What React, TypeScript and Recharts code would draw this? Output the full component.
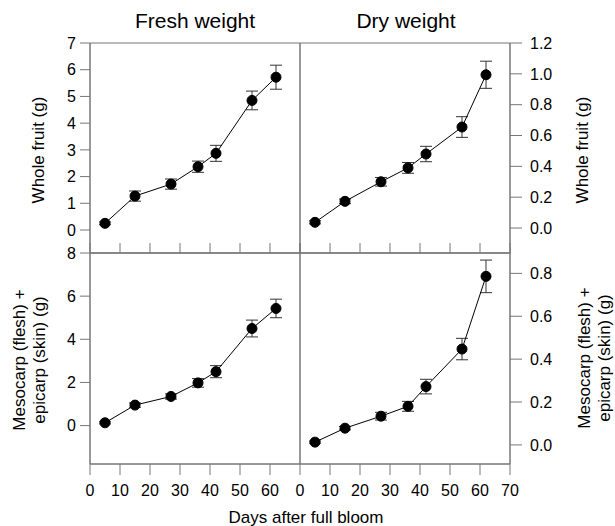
import { LineChart, Line, XAxis, YAxis, ErrorBar, ReferenceArea } from 'recharts';

const days = [5, 15, 27, 36, 42, 54, 62];

const freshWhole = [0.25, 1.27, 1.72, 2.37, 2.87, 4.85, 5.72];
const freshWholeErr = [0.05, 0.19, 0.19, 0.21, 0.3, 0.35, 0.45];
const dryWhole = [0.037, 0.173, 0.3, 0.39, 0.48, 0.655, 0.994];
const dryWholeErr = [0.01, 0.015, 0.028, 0.035, 0.05, 0.067, 0.088];
const freshFlesh = [0.13, 0.95, 1.35, 1.98, 2.5, 4.5, 5.43];
const freshFleshErr = [0.05, 0.1, 0.12, 0.2, 0.28, 0.39, 0.43];
const dryFlesh = [0.013, 0.078, 0.134, 0.18, 0.272, 0.447, 0.786];
const dryFleshErr = [0.005, 0.008, 0.018, 0.023, 0.034, 0.05, 0.076];

const dayTicks = [0, 10, 20, 30, 40, 50, 60, 70];
const freshWholeTicks = [0, 1, 2, 3, 4, 5, 6, 7];
const dryWholeTicks = [0, 0.2, 0.4, 0.6, 0.8, 1.0, 1.2];
const freshFleshTicks = [0, 2, 4, 6, 8];
const dryFleshTicks = [0, 0.2, 0.4, 0.6, 0.8];

const W = 615;
const H = 526;
const AX = '#777';
const FONT = '"Liberation Sans", Arial, sans-serif';
const tickStyle = { fill: '#000', fontSize: 16, fontFamily: FONT };

type PanelProps = {
  values: number[];
  errors: number[];
  domain: [number, number];
  yTicks: number[];
  side: 'left' | 'right';
  row: 'top' | 'bottom';
  fmt?: (v: number) => string;
};

function Panel({ values, errors, domain, yTicks, side, row, fmt }: PanelProps) {
  const data = days.map((d, i) => ({ day: d, v: values[i], err: errors[i] }));
  const isLeft = side === 'left';
  const isTop = row === 'top';
  const margin = {
    top: isTop ? 43 : 243,
    bottom: isTop ? 273 : 12,
    left: isLeft ? 40 : 300,
    right: isLeft ? 315 : 55,
  };
  return (
    <LineChart
      width={W}
      height={H}
      data={data}
      margin={margin}
      style={{ position: 'absolute', left: 0, top: 0 }}
    >
      <XAxis
        xAxisId="b"
        dataKey="day"
        type="number"
        domain={[0, 70]}
        allowDataOverflow
        ticks={isLeft ? dayTicks.slice(0, 7) : dayTicks}
        interval={0}
        hide={isTop}
        height={50}
        tickSize={11}
        tickMargin={10}
        stroke={AX}
        tick={tickStyle}
      />
      {!isTop && (
        <XAxis
          xAxisId="t"
          orientation="top"
          dataKey="day"
          type="number"
          domain={[0, 70]}
          allowDataOverflow
          ticks={dayTicks}
          interval={0}
          height={10}
          tickSize={10}
          tickFormatter={() => ''}
          stroke={AX}
        />
      )}
      <YAxis
        orientation={isLeft ? 'left' : 'right'}
        type="number"
        domain={domain}
        allowDataOverflow
        ticks={yTicks}
        interval={0}
        width={50}
        tickSize={isLeft ? 10 : 12}
        tickMargin={isLeft ? 4 : 8}
        tickFormatter={fmt}
        stroke={AX}
        tick={tickStyle}
      />
      <ReferenceArea
        xAxisId="b"
        x1={0}
        x2={70}
        y1={domain[0]}
        y2={domain[1]}
        fill="none"
        stroke={AX}
        strokeWidth={1}
      />
      <Line
        xAxisId="b"
        type="linear"
        dataKey="v"
        stroke="#000"
        strokeWidth={1}
        dot={{ r: 5, fill: '#000', stroke: '#000', strokeWidth: 1 }}
        isAnimationActive={false}
      >
        <ErrorBar dataKey="err" direction="y" width={6} stroke="#333" strokeWidth={1} />
      </Line>
    </LineChart>
  );
}

const oneDec = (v: number) => v.toFixed(1);

export default function App() {
  return (
    <div style={{ position: 'absolute', left: 0, top: 0, width: W, height: H, background: '#fff' }}>
      <Panel values={freshWhole} errors={freshWholeErr} domain={[-0.86, 7]} yTicks={freshWholeTicks} side="left" row="top" />
      <Panel values={dryWhole} errors={dryWholeErr} domain={[-0.162, 1.2]} yTicks={dryWholeTicks} side="right" row="top" fmt={oneDec} />
      <Panel values={freshFlesh} errors={freshFleshErr} domain={[-1.78, 8]} yTicks={freshFleshTicks} side="left" row="bottom" />
      <Panel values={dryFlesh} errors={dryFleshErr} domain={[-0.089, 0.895]} yTicks={dryFleshTicks} side="right" row="bottom" fmt={oneDec} />
      <svg width={W} height={H} style={{ position: 'absolute', left: 0, top: 0, pointerEvents: 'none' }} fontFamily={FONT} fill="#000">
        <text x={195} y={28} fontSize={21} textAnchor="middle">Fresh weight</text>
        <text x={406} y={28} fontSize={21} textAnchor="middle">Dry weight</text>
        <text x={306} y={523} fontSize={17} textAnchor="middle">Days after full bloom</text>
        <text transform="translate(44,150) rotate(-90)" fontSize={17} textAnchor="middle">Whole fruit (g)</text>
        <text transform="translate(588,150) rotate(-90)" fontSize={17} textAnchor="middle">Whole fruit (g)</text>
        <text transform="translate(25,360) rotate(-90)" fontSize={17} textAnchor="middle">
          <tspan x={0} dy={0}>Mesocarp (flesh) +</tspan>
          <tspan x={0} dy={20}>epicarp (skin)  (g)</tspan>
        </text>
        <text transform="translate(590,358) rotate(-90)" fontSize={17} textAnchor="middle">
          <tspan x={0} dy={0}>Mesocarp (flesh) +</tspan>
          <tspan x={0} dy={20}>epicarp (skin) (g)</tspan>
        </text>
      </svg>
    </div>
  );
}
